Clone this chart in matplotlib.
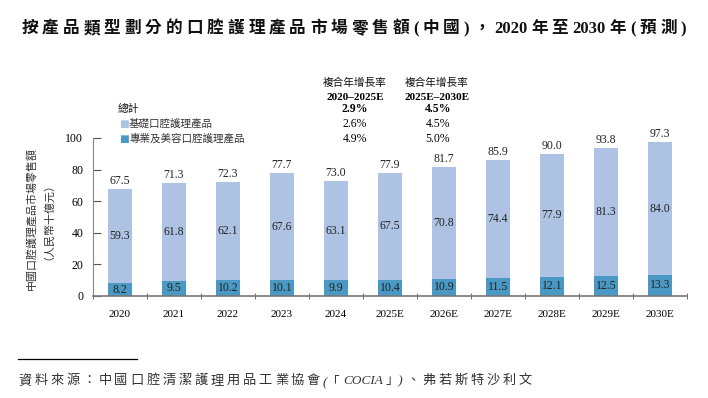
import numpy as np
import matplotlib
matplotlib.use("Agg")
import matplotlib.pyplot as plt

# data
years = ["2020", "2021", "2022", "2023", "2024", "2025E",
         "2026E", "2027E", "2028E", "2029E", "2030E"]
basic = [59.3, 61.8, 62.1, 67.6, 63.1, 67.5, 70.8, 74.4, 77.9, 81.3, 84.0]
pro = [8.2, 9.5, 10.2, 10.1, 9.9, 10.4, 10.9, 11.5, 12.1, 12.5, 13.3]
total = [67.5, 71.3, 72.3, 77.7, 73.0, 77.9, 81.7, 85.9, 90.0, 93.8, 97.3]
cagr_head = "複合年增長率"
cagr_period = ["2020–2025E", "2025E–2030E"]
cagr_rows = ["總計", "基礎口腔護理產品", "專業及美容口腔護理產品"]
cagr_1 = ["2.9%", "2.6%", "4.9%"]
cagr_2 = ["4.5%", "4.5%", "5.0%"]

c_light = "#aec3e3"
c_dark = "#4a99c5"
fonts = ["Liberation Serif", "Noto Sans CJK TC", "DejaVu Sans"]
plt.rcParams["font.family"] = fonts

W, H = 708, 398
fig = plt.figure(figsize=(W / 100, H / 100), dpi=100)
ax = fig.add_axes([93 / W, 1 - 296 / H, (687 - 93) / W, (296 - 138) / H])


def spaced(xpx, ypx, s, width, ha="left", **kw):
    # lay text out piece by piece so it fills a given pixel width (letter spacing)
    toks = []
    for ch in s:
        if toks and ch.isascii() and toks[-1].isascii() and ch not in "()":
            toks[-1] += ch
        elif toks and (ch == "「" and toks[-1] == "(" or ch == ")" and toks[-1] == "」"):
            toks[-1] += ch
        else:
            toks.append(ch)
    r = fig.canvas.get_renderer()
    arts = [fig.text(0, 1 - ypx / H, t, ha="left", va="center", **kw) for t in toks]
    ws = [a.get_window_extent(r).width for a in arts]
    gap = (width - sum(ws)) / (len(toks) - 1)
    x0 = xpx - width / 2 if ha == "center" else xpx
    for a, w in zip(arts, ws):
        a.set_x(x0 / W)
        x0 += w + gap


x = np.arange(len(years))
bw = 0.46
ax.bar(x, pro, bw, color=c_dark, zorder=2)
ax.bar(x, basic, bw, bottom=pro, color=c_light, zorder=2)

for i in range(len(years)):
    ax.text(x[i], pro[i] / 2, f"{pro[i]:.1f}", ha="center", va="center", fontsize=8.5, color="#222222")
    ax.text(x[i], pro[i] + basic[i] / 2, f"{basic[i]:.1f}", ha="center", va="center", fontsize=8.5, color="#222222")
    ax.text(x[i], total[i] + 1.2, f"{total[i]:.1f}", ha="center", va="bottom", fontsize=8.5, color="#222222", clip_on=False)

ax.set_xlim(-0.5, len(years) - 0.5)
ax.set_ylim(0, 100)
ax.set_yticks([0, 20, 40, 60, 80, 100])
ax.set_xticks(x)
ax.set_xticklabels(years, fontsize=8)
ax.set_xticks(np.arange(-0.5, len(years)), minor=True)
ax.tick_params(axis="x", which="major", length=0, pad=10)
ax.tick_params(axis="x", which="minor", length=5, direction="inout", color="#555555")
ax.tick_params(axis="y", length=6, direction="in", labelsize=8.5, pad=7, color="#555555")
for s in ["top", "right"]:
    ax.spines[s].set_visible(False)
ax.spines["left"].set_color("#888888")
ax.spines["bottom"].set_color("#777777")
ax.spines["bottom"].set_linewidth(1.2)

# y label, two rotated columns
fig.text(31 / W, 1 - 218 / H, "中國口腔護理產品市場零售額", rotation=90,
         ha="center", va="center", fontsize=7.9, color="#333333")
fig.text(43 / W, 1 - 216 / H, "（人民幣十億元）", rotation=90,
         ha="center", va="center", fontsize=7.9, color="#333333")

# title
spaced(354, 29, "按產品類型劃分的口腔護理產品市場零售額(中國)，2020年至2030年(預測)",
       665, ha="center", fontsize=12, fontweight="bold", color="#111111")

# CAGR table
for j, cx in enumerate([355, 437]):
    fig.text(cx / W, 1 - 83 / H, cagr_head, ha="center", va="center", fontsize=7.7,
             color="#111111")
    fig.text(cx / W, 1 - 97 / H, cagr_period[j], ha="center", va="center", fontsize=8,
             fontweight="bold")
row_y = [109, 124, 139]
for k, name in enumerate(cagr_rows):
    yy = 1 - row_y[k] / H
    bold = "bold" if k == 0 else "normal"
    if k == 0:
        fig.text(118 / W, yy, name, ha="left", va="center", fontsize=7.7, color="#111111")
    else:
        fig.text(124 / W, yy, "■", ha="center", va="center", fontsize=7.5,
                 color=[c_light, c_dark][k - 1], family=["DejaVu Sans"])
        fig.text(129 / W, yy, name, ha="left", va="center", fontsize=7.6, color="#333333")
    fig.text(355 / W, yy, cagr_1[k], ha="center", va="center", fontsize=8.5, fontweight=bold)
    fig.text(438 / W, yy, cagr_2[k], ha="center", va="center", fontsize=8.5, fontweight=bold)

# footnote
fig.add_artist(plt.Line2D([18 / W, 137 / W], [1 - 359 / H, 1 - 359 / H], color="black", lw=0.9))
spaced(18, 381, "資料來源：中國口腔清潔護理用品工業協會(「COCIA」)、弗若斯特沙利文",
       514, fontsize=9.5, style="italic", color="#333333")

fig.savefig("out.png", dpi=100)
